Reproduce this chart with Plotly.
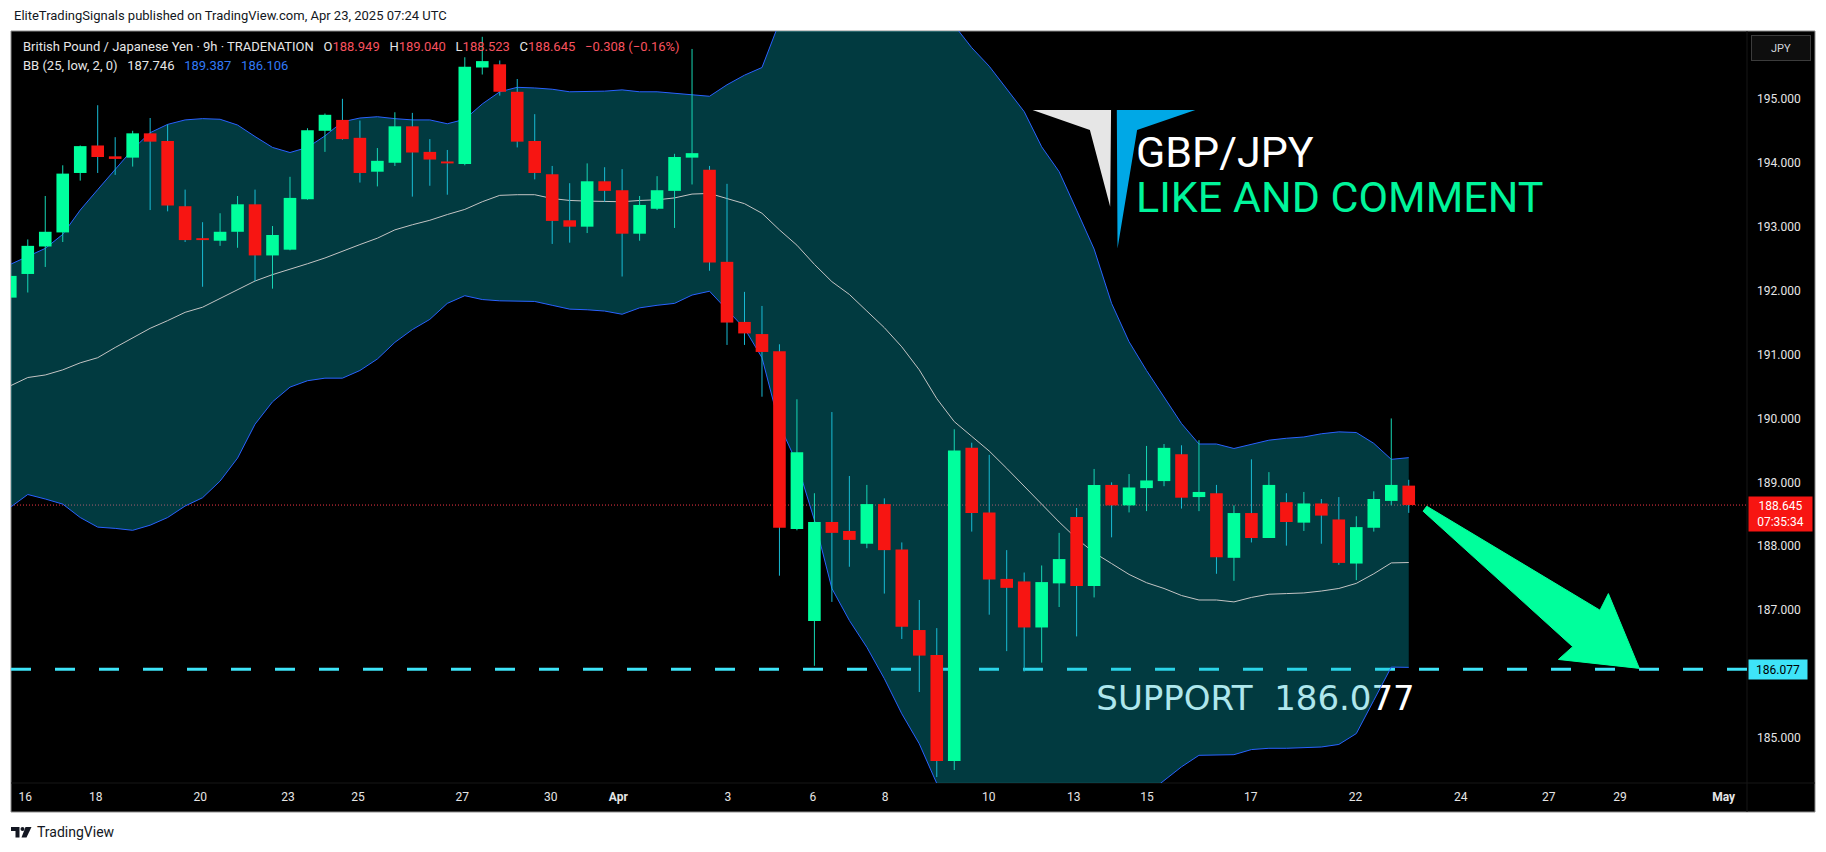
import plotly.graph_objects as go

# ---------------- data ----------------
OPEN = [191.89, 192.26, 192.69, 192.91, 193.84, 194.27, 194.10, 194.08, 194.46, 194.34,
        193.32, 192.81, 192.78, 192.92, 193.35, 192.55, 192.64, 193.43, 194.50, 194.67,
        194.39, 193.86, 194.00, 194.57, 194.17, 194.02, 193.98, 195.49, 195.54, 195.11,
        194.34, 193.82, 193.10, 193.00, 193.71, 193.57, 192.89, 193.28, 193.56, 194.08,
        193.89, 192.45, 191.51, 191.32, 191.05, 188.27, 186.83, 188.38, 188.24, 188.04,
        188.66, 187.95, 186.69, 186.30, 184.64, 189.54, 188.53, 187.49, 187.45, 186.73,
        187.42, 188.46, 187.38, 188.96, 188.64, 188.91, 189.02, 189.44, 188.77, 188.83,
        187.82, 188.52, 188.13, 188.69, 188.37, 188.67, 188.42, 187.73, 188.29, 188.71,
        188.949]
HIGH = [192.25, 192.80, 193.48, 193.96, 194.27, 194.90, 194.40, 194.50, 194.70, 194.60,
        193.58, 193.07, 193.21, 193.48, 193.58, 193.01, 193.78, 194.54, 194.77, 195.00,
        194.66, 194.23, 194.79, 194.78, 194.37, 194.20, 195.65, 195.97, 195.60, 195.31,
        194.76, 193.95, 193.68, 193.99, 193.93, 193.90, 193.48, 193.79, 194.14, 195.78,
        193.95, 193.67, 191.98, 191.76, 191.16, 190.30, 188.83, 190.10, 189.10, 188.96,
        188.75, 188.06, 187.16, 186.72, 189.83, 189.62, 189.43, 187.94, 187.59, 187.70,
        188.21, 188.60, 189.21, 189.00, 189.13, 189.57, 189.60, 189.58, 189.66, 188.96,
        188.64, 189.36, 189.16, 188.83, 188.85, 188.74, 188.77, 188.47, 188.86, 190.00,
        189.040]
LOW = [191.77, 191.97, 192.37, 192.76, 193.72, 193.84, 193.81, 193.94, 193.26, 193.24,
       192.76, 192.06, 192.70, 192.67, 192.15, 192.03, 192.63, 193.42, 194.17, 194.36,
       193.69, 193.63, 193.95, 193.47, 193.64, 193.50, 193.96, 195.38, 195.05, 194.24,
       193.74, 192.73, 192.75, 192.90, 193.39, 192.22, 192.78, 193.26, 192.98, 193.66,
       192.31, 191.15, 191.15, 190.34, 187.54, 188.25, 186.13, 187.13, 187.68, 187.97,
       187.26, 186.55, 185.72, 184.39, 184.50, 188.23, 186.93, 186.36, 186.04, 186.18,
       187.05, 186.59, 187.20, 188.14, 188.53, 188.55, 188.94, 188.59, 188.55, 187.57,
       187.46, 188.06, 188.13, 188.01, 188.24, 188.04, 187.71, 187.47, 188.23, 188.64,
       188.523]
CLOSE = [192.23, 192.70, 192.92, 193.83, 194.26, 194.09, 194.06, 194.46, 194.33, 193.33,
         192.79, 192.80, 192.92, 193.35, 192.55, 192.87, 193.45, 194.51, 194.75, 194.37,
         193.84, 194.03, 194.57, 194.16, 194.05, 193.99, 195.50, 195.59, 195.11, 194.33,
         193.84, 193.09, 193.00, 193.71, 193.56, 192.89, 193.34, 193.57, 194.09, 194.15,
         192.44, 191.50, 191.33, 191.04, 188.29, 189.47, 188.38, 188.21, 188.10, 188.66,
         187.94, 186.74, 186.29, 184.64, 189.50, 188.52, 187.48, 187.35, 186.73, 187.44,
         187.80, 187.38, 188.96, 188.64, 188.92, 189.03, 189.54, 188.76, 188.85, 187.83,
         188.52, 188.13, 188.96, 188.38, 188.67, 188.48, 187.74, 188.30, 188.74, 188.96,
         188.645]

BB_UPPER = [192.41, 192.53, 192.66, 192.88, 193.26, 193.58, 193.90, 194.21, 194.47, 194.60,
            194.67, 194.69, 194.68, 194.59, 194.41, 194.24, 194.16, 194.24, 194.42, 194.64,
            194.70, 194.72, 194.69, 194.67, 194.67, 194.61, 194.68, 194.92, 195.11, 195.18,
            195.17, 195.15, 195.11, 195.11, 195.12, 195.14, 195.11, 195.11, 195.09, 195.07,
            195.04, 195.22, 195.37, 195.49, 196.20, 196.30, 196.50, 196.94, 197.04, 196.95,
            196.91, 196.86, 196.60, 196.34, 196.15, 195.80, 195.51, 195.15, 194.80, 194.25,
            193.86, 193.26, 192.65, 191.80, 191.20, 190.75, 190.34, 189.92, 189.60, 189.60,
            189.53, 189.59, 189.66, 189.69, 189.71, 189.76, 189.79, 189.78, 189.61, 189.36,
            189.387]
BB_MID = [190.51, 190.64, 190.68, 190.76, 190.87, 190.95, 191.11, 191.26, 191.41, 191.53,
          191.66, 191.74, 191.88, 192.02, 192.15, 192.25, 192.33, 192.42, 192.51, 192.62,
          192.72, 192.82, 192.95, 193.03, 193.10, 193.19, 193.27, 193.39, 193.49, 193.50,
          193.50, 193.44, 193.41, 193.40, 193.40, 193.39, 193.41, 193.42, 193.45, 193.51,
          193.52, 193.44, 193.36, 193.21, 192.95, 192.71, 192.41, 192.14, 191.94, 191.68,
          191.42, 191.12, 190.76, 190.31, 189.95, 189.72, 189.49, 189.22, 188.94, 188.65,
          188.38, 188.12, 187.90, 187.73, 187.56, 187.43, 187.34, 187.23, 187.16, 187.16,
          187.13, 187.20, 187.25, 187.26, 187.27, 187.30, 187.34, 187.42, 187.57, 187.74,
          187.746]
BB_LOWER = [188.61, 188.81, 188.74, 188.66, 188.45, 188.30, 188.28, 188.25, 188.33, 188.45,
            188.63, 188.76, 189.02, 189.38, 189.91, 190.26, 190.49, 190.59, 190.63, 190.63,
            190.75, 190.93, 191.19, 191.39, 191.55, 191.80, 191.92, 191.86, 191.84, 191.84,
            191.83, 191.77, 191.71, 191.70, 191.68, 191.63, 191.73, 191.77, 191.80, 191.93,
            191.99, 191.70, 191.41, 190.95, 189.90, 189.30, 188.41, 187.34, 186.84, 186.42,
            185.93, 185.38, 184.91, 184.29, 183.79, 183.65, 183.48, 183.28, 183.08, 183.06,
            182.90, 182.98, 183.14, 183.66, 183.93, 184.12, 184.34, 184.55, 184.73, 184.73,
            184.74, 184.82, 184.84, 184.84, 184.85, 184.86, 184.90, 185.07, 185.59, 186.11,
            186.106]

TICK_POS = [0.86, 4.89, 10.87, 15.89, 19.89, 25.86, 30.92, 34.78, 41.05, 45.91,
            50.04, 55.97, 60.84, 65.03, 70.96, 76.96, 82.97, 88.01, 92.08, 98.01]
TICK_LABELS = ["16", "18", "20", "23", "25", "27", "30", "<b>Apr</b>", "3", "6",
               "8", "10", "13", "15", "17", "22", "24", "27", "29", "<b>May</b>"]
PRICE_TICKS = [185, 187, 188, 189, 190, 191, 192, 193, 194, 195]

SUPPORT = 186.077
LAST_PRICE = 188.645
COUNTDOWN = "07:35:34"
BB_VALUES = (187.746, 189.387, 186.106)
CHANGE = "\u22120.308 (\u22120.16%)"

X_RANGE = [0.04, 99.35]
Y_RANGE = [184.297, 196.061]

# drawings (anchored at bar index / price, like TradingView drawings)
ARROW = [(81.03, 188.627), (90.94, 187.00), (91.42, 187.26), (93.19, 186.09),
         (88.56, 186.23), (89.38, 186.43), (80.82, 188.549)]
LOGO_WHITE = [(58.48, 194.825), (62.97, 194.825), (62.92, 193.311), (61.76, 194.512)]
LOGO_BLUE = [(63.30, 194.825), (67.79, 194.825), (64.46, 194.512), (63.34, 192.660)]
SUPPORT_LABEL_AT = (62.13, 185.575)
TITLE_AT = (64.30, 194.17)
SUBTITLE_AT = (64.30, 193.468)

# ---------------- styles / layout ----------------
GREEN = "#00ff9d"
RED = "#f71512"
WICK_UP = "#16d6b4"
WICK_DN = "#18bcd4"
BAND = "#2962ff"
FONT = "Roboto"
BODY_PX = 12.6

PAGE_OFF = 8                      # default <body> margin of the html page
W, H = 1826 - PAGE_OFF, 852 - PAGE_OFF
PLOT_L, PLOT_R, PLOT_T, PLOT_B = 11, 1747, 31, 783   # page pixels
ML, MT = PLOT_L - PAGE_OFF, PLOT_T - PAGE_OFF
MR, MB = W - (PLOT_R - PAGE_OFF), H - (PLOT_B - PAGE_OFF)
PW, PH = PLOT_R - PLOT_L, PLOT_B - PLOT_T


def px_x(X):
    return (X - PLOT_L) / PW


def px_y(Y):
    return (PLOT_B - Y) / PH


def path(points):
    return "M " + " L ".join(f"{x},{y}" for x, y in points) + " Z"


idx = list(range(len(CLOSE)))
is_up = [c >= o for o, c in zip(OPEN, CLOSE)]

fig = go.Figure()

# label under the band fill (the fill tints it, as in TradingView)
fig.add_trace(go.Scatter(
    x=[SUPPORT_LABEL_AT[0]], y=[SUPPORT_LABEL_AT[1]], mode="text",
    text=[f"SUPPORT\u00a0\u00a0{SUPPORT:.3f}"], textposition="middle right",
    textfont=dict(family="DejaVu Sans", size=34, color="#ffffff"),
    hoverinfo="skip", showlegend=False))

# Bollinger bands
fig.add_trace(go.Scatter(x=idx, y=BB_LOWER, mode="lines", line=dict(color=BAND, width=1),
                         hoverinfo="skip", showlegend=False))
fig.add_trace(go.Scatter(x=idx, y=BB_UPPER, mode="lines", line=dict(color=BAND, width=1),
                         fill="tonexty", fillcolor="rgba(3,181,200,0.32)",
                         hoverinfo="skip", showlegend=False))
fig.add_trace(go.Scatter(x=idx, y=BB_MID, mode="lines", line=dict(color="#c4c4c4", width=1),
                         hoverinfo="skip", showlegend=False))

# wicks and bodies (scatter segments so they sit above the band fill)
for flag, wcol, bcol in ((True, WICK_UP, GREEN), (False, WICK_DN, RED)):
    wx, wy, bx, by = [], [], [], []
    for i, u in enumerate(is_up):
        if u != flag:
            continue
        wx += [i, i, None]
        wy += [LOW[i], HIGH[i], None]
        lo, hi = min(OPEN[i], CLOSE[i]), max(OPEN[i], CLOSE[i])
        if hi - lo < 0.03:
            mid = (hi + lo) / 2
            lo, hi = mid - 0.015, mid + 0.015
        bx += [i, i, None]
        by += [lo, hi, None]
    fig.add_trace(go.Scatter(x=wx, y=wy, mode="lines", line=dict(color=wcol, width=1),
                             hoverinfo="skip", showlegend=False))
    fig.add_trace(go.Scatter(x=bx, y=by, mode="lines", line=dict(color=bcol, width=BODY_PX),
                             hoverinfo="skip", showlegend=False))

shapes = [
    # dark chart panel incl. axis areas, with thin grey border
    dict(type="rect", xref="paper", yref="paper", x0=px_x(11), x1=px_x(1815),
         y0=px_y(812), y1=px_y(31), fillcolor="#000000",
         line=dict(color="#8c8c8c", width=1), layer="below"),
    dict(type="line", xref="paper", yref="paper", x0=1, x1=1, y0=px_y(812), y1=1,
         line=dict(color="#161616", width=1), layer="below"),
    dict(type="line", xref="paper", yref="paper", x0=0, x1=px_x(1815), y0=0, y1=0,
         line=dict(color="#161616", width=1), layer="below"),
    # last price dotted line
    dict(type="line", xref="paper", yref="y", x0=0, x1=1, y0=LAST_PRICE, y1=LAST_PRICE,
         line=dict(color="#f23645", width=1, dash="1px,2px"), layer="below"),
    # support line
    dict(type="line", xref="paper", yref="y", x0=0, x1=1, y0=SUPPORT, y1=SUPPORT,
         line=dict(color="#3ee4f8", width=3, dash="20px,24px"), layer="below"),
    # arrow
    dict(type="path", xref="x", yref="y", path=path(ARROW), fillcolor="#00ff9c",
         line=dict(color="#00ff9c", width=1), layer="above"),
    # logo
    dict(type="path", xref="x", yref="y", path=path(LOGO_WHITE), fillcolor="#e6e6e6",
         line=dict(width=0), layer="above"),
    dict(type="path", xref="x", yref="y", path=path(LOGO_BLUE), fillcolor="#00a8e6",
         line=dict(width=0), layer="above"),
    # TradingView footer logo
    dict(type="path", xref="paper", yref="paper",
         path=path([(px_x(11), px_y(827)), (px_x(19.5), px_y(827)), (px_x(19.5), px_y(837.5)),
                    (px_x(15.5), px_y(837.5)), (px_x(15.5), px_y(831)), (px_x(11), px_y(831))]),
         fillcolor="#131722", line=dict(width=0)),
    dict(type="circle", xref="paper", yref="paper", x0=px_x(20.5), x1=px_x(24.5),
         y0=px_y(831), y1=px_y(827), fillcolor="#131722", line=dict(width=0)),
    dict(type="path", xref="paper", yref="paper",
         path=path([(px_x(25.5), px_y(827)), (px_x(31.5), px_y(827)),
                    (px_x(26.5), px_y(837.5)), (px_x(21.5), px_y(837.5))]),
         fillcolor="#131722", line=dict(width=0)),
]

RV = "#f7525f"
BV = "#3179f5"
sp = "\u00a0\u00a0\u00a0"
header1 = (f"British Pound / Japanese Yen · 9h · TRADENATION{sp}"
           f"O<span style='color:{RV}'>{OPEN[-1]:.3f}</span>{sp}"
           f"H<span style='color:{RV}'>{HIGH[-1]:.3f}</span>{sp}"
           f"L<span style='color:{RV}'>{LOW[-1]:.3f}</span>{sp}"
           f"C<span style='color:{RV}'>{CLOSE[-1]:.3f}</span>{sp}"
           f"<span style='color:{RV}'>{CHANGE}</span>")
header2 = (f"BB (25, low, 2, 0){sp}{BB_VALUES[0]:.3f}{sp}"
           f"<span style='color:{BV}'>{BB_VALUES[1]:.3f}</span>{sp}"
           f"<span style='color:{BV}'>{BB_VALUES[2]:.3f}</span>")

annotations = [
    dict(text="EliteTradingSignals published on TradingView.com, Apr 23, 2025 07:24 UTC",
         xref="paper", yref="paper", x=px_x(11.6), y=px_y(15), xanchor="left",
         yanchor="middle", showarrow=False, font=dict(family=FONT, size=13, color="#131722")),
    dict(text=header1, xref="paper", yref="paper", x=px_x(20.5), y=px_y(46.7),
         xanchor="left", yanchor="middle", showarrow=False,
         font=dict(family=FONT, size=13, color="#e6e6e6")),
    dict(text=header2, xref="paper", yref="paper", x=px_x(20.5), y=px_y(65.7),
         xanchor="left", yanchor="middle", showarrow=False,
         font=dict(family=FONT, size=13, color="#e6e6e6")),
    dict(text="JPY", xref="paper", yref="paper", x=px_x(1781), y=px_y(48),
         xanchor="center", yanchor="middle", showarrow=False, width=54, height=20,
         bgcolor="#0e0e0e", bordercolor="#3c3c3c", borderwidth=1, borderpad=2,
         font=dict(family=FONT, size=11, color="#d1d4dc")),
    dict(text=f"{LAST_PRICE:.3f}<br>{COUNTDOWN}", xref="paper", yref="y", x=1.0006,
         y=LAST_PRICE, xanchor="left", yanchor="top", yshift=9, showarrow=False,
         width=59, height=30, borderpad=2, bgcolor="#f71512", align="center",
         font=dict(family=FONT, size=12, color="#ffffff")),
    dict(text=f"{SUPPORT:.3f}", xref="paper", yref="y", x=1.0006, y=SUPPORT,
         xanchor="left", yanchor="middle", showarrow=False, width=54, height=15,
         borderpad=2, bgcolor="#3ee4f8", align="center",
         font=dict(family=FONT, size=12, color="#000000")),
    dict(text="GBP/JPY", xref="x", yref="y", x=TITLE_AT[0], y=TITLE_AT[1],
         xanchor="left", yanchor="middle", showarrow=False,
         font=dict(family=FONT, size=43, color="#ffffff")),
    dict(text="LIKE AND COMMENT", xref="x", yref="y", x=SUBTITLE_AT[0], y=SUBTITLE_AT[1],
         xanchor="left", yanchor="middle", showarrow=False,
         font=dict(family=FONT, size=43, color="#00f59b")),
    dict(text="TradingView", xref="paper", yref="paper", x=px_x(35), y=px_y(832),
         xanchor="left", yanchor="middle", showarrow=False,
         font=dict(family=FONT, size=14, color="#131722")),
]

fig.update_layout(
    width=W, height=H, autosize=False,
    margin=dict(l=ML, r=MR, t=MT, b=MB, pad=0),
    paper_bgcolor="#ffffff", plot_bgcolor="rgba(0,0,0,0)",
    showlegend=False, hovermode=False,
    shapes=shapes, annotations=annotations,
    xaxis=dict(range=X_RANGE, tickmode="array", tickvals=TICK_POS, ticktext=TICK_LABELS,
               showgrid=False, zeroline=False, showline=False, ticks="",
               ticklabelstandoff=5, tickfont=dict(family=FONT, size=12, color="#e6e6e6"),
               fixedrange=True),
    yaxis=dict(range=Y_RANGE, side="right", tickmode="array", tickvals=PRICE_TICKS,
               ticktext=[f"{v:.3f}" for v in PRICE_TICKS], showgrid=False, zeroline=False,
               showline=False, ticks="", ticklabelstandoff=9,
               tickfont=dict(family=FONT, size=12, color="#e6e6e6"), fixedrange=True),
)

fig.write_html("out.html")
